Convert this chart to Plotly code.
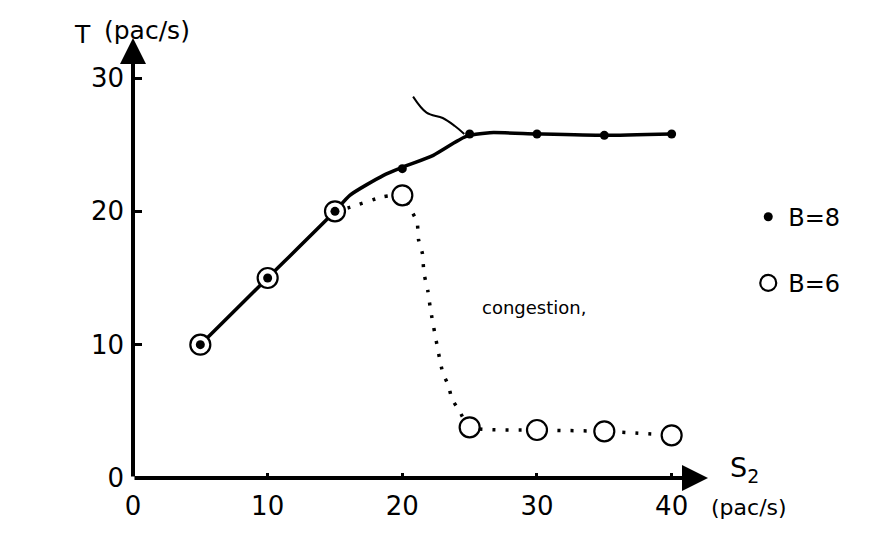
import plotly.graph_objects as go

# measured points
s2 = [5, 10, 15, 20, 25, 30, 35, 40]
t_b8 = [10, 15, 20, 23.2, 25.8, 25.8, 25.7, 25.8]
t_b6 = [10, 15, 20, 21.2, 3.8, 3.6, 3.5, 3.2]

# hand-drawn curves
curve_b8_x = [5, 10, 15, 16.1, 18.6, 20, 22.3, 24.7, 26.5, 30, 35, 40]
curve_b8_y = [10, 15, 20, 21.2, 22.7, 23.3, 24.2, 25.6, 25.9, 25.8, 25.7, 25.8]

curve_b6_x = [15, 16.1, 18.6, 20, 20.7, 21.1, 21.2, 21.5, 21.6, 21.9, 22.1, 23.0, 23.4, 23.7, 24.2, 25, 30, 35, 40]
curve_b6_y = [20, 20.3, 21.1, 21.2, 20.0, 19.2, 17.9, 16.8, 15.4, 14.0, 12.6, 7.9, 7.0, 5.9, 5.1, 3.8, 3.6, 3.5, 3.2]

pointer_x = [20.8, 21.8, 23.0, 23.9, 24.6]
pointer_y = [28.6, 27.4, 27.0, 26.4, 25.8]

x_ticks = [0, 10, 20, 30, 40]
y_ticks = [0, 10, 20, 30]

FONT = "DejaVu Sans"

fig = go.Figure()

fig.add_trace(go.Scatter(x=curve_b6_x, y=curve_b6_y, mode="lines",
                         line=dict(color="black", width=3.5, dash="3px,10px", shape="spline", smoothing=0.5),
                         showlegend=False, hoverinfo="skip"))
fig.add_trace(go.Scatter(x=curve_b8_x, y=curve_b8_y, mode="lines",
                         line=dict(color="black", width=3.5, shape="spline", smoothing=0.6),
                         showlegend=False, hoverinfo="skip"))
fig.add_trace(go.Scatter(x=pointer_x, y=pointer_y, mode="lines",
                         line=dict(color="black", width=2, shape="spline"),
                         showlegend=False, hoverinfo="skip"))
fig.add_trace(go.Scatter(x=s2, y=t_b6, mode="markers", name="B=6",
                         marker=dict(symbol="circle", size=20, color="white",
                                     line=dict(color="black", width=2.2)),
                         cliponaxis=False, showlegend=False))
fig.add_trace(go.Scatter(x=s2, y=t_b8, mode="markers", name="B=8",
                         marker=dict(symbol="circle", size=9, color="black"),
                         cliponaxis=False, showlegend=False))

# legend-only traces
fig.add_trace(go.Scatter(x=[None], y=[None], mode="markers", name="B=8", legendgroup="a",
                         marker=dict(symbol="circle", size=9, color="black")))
fig.add_trace(go.Scatter(x=[None], y=[None], mode="markers", name="B=6", legendgroup="b",
                         marker=dict(symbol="circle-open", size=20, color="black", line=dict(width=2.2))))

annotations = [
    dict(x=42.7, y=0, ax=0, ay=0, xref="x", yref="y", axref="x", ayref="y", text="",
         showarrow=True, arrowhead=2, arrowsize=1.3, arrowwidth=4, arrowcolor="black"),
    dict(x=0, y=33, ax=0, ay=0, xref="x", yref="y", axref="x", ayref="y", text="",
         showarrow=True, arrowhead=2, arrowsize=1.3, arrowwidth=4, arrowcolor="black"),
    dict(x=-0.087, y=1.007, xref="paper", yref="paper", text="T", showarrow=False,
         xanchor="center", yanchor="middle", font=dict(family=FONT, size=25, color="black")),
    dict(x=0.024, y=1.018, xref="paper", yref="paper", text="(pac/s)", showarrow=False,
         xanchor="center", yanchor="middle", font=dict(family=FONT, size=25, color="black")),
    dict(x=1.035, y=0.019, xref="paper", yref="paper", text="S<sub>2</sub>", showarrow=False,
         xanchor="left", yanchor="middle", font=dict(family=FONT, size=27, color="black")),
    dict(x=1.071, y=-0.067, xref="paper", yref="paper", text="(pac/s)", showarrow=False,
         xanchor="center", yanchor="middle", font=dict(family=FONT, size=22, color="black")),
    dict(x=29.8, y=12.8, xref="x", yref="y", text="congestion,", showarrow=False,
         xanchor="center", yanchor="middle", font=dict(family=FONT, size=18, color="black")),
]

fig.update_layout(
    width=883, height=534,
    margin=dict(l=125, r=183, t=30, b=64),
    paper_bgcolor="white", plot_bgcolor="white",
    font=dict(family=FONT, color="black"),
    annotations=annotations,
    showlegend=True,
    legend=dict(x=1.07, y=0.644, xanchor="left", yanchor="top", tracegroupgap=32,
                font=dict(family=FONT, size=24, color="black"), bgcolor="rgba(0,0,0,0)"),
)
fig.update_xaxes(range=[0, 42.7], tickvals=x_ticks, ticktext=[str(v) for v in x_ticks],
                 ticks="inside", ticklen=5, tickwidth=3, tickcolor="black",
                 showgrid=False, zeroline=False, showline=False, ticklabelstandoff=10,
                 tickfont=dict(family=FONT, size=26, color="black"))
fig.update_yaxes(range=[0, 33], tickvals=y_ticks, ticktext=[str(v) for v in y_ticks],
                 ticks="inside", ticklen=9, tickwidth=3, tickcolor="black",
                 showgrid=False, zeroline=False, showline=False, ticklabelstandoff=8,
                 tickfont=dict(family=FONT, size=26, color="black"))

fig.write_html("out.html")
